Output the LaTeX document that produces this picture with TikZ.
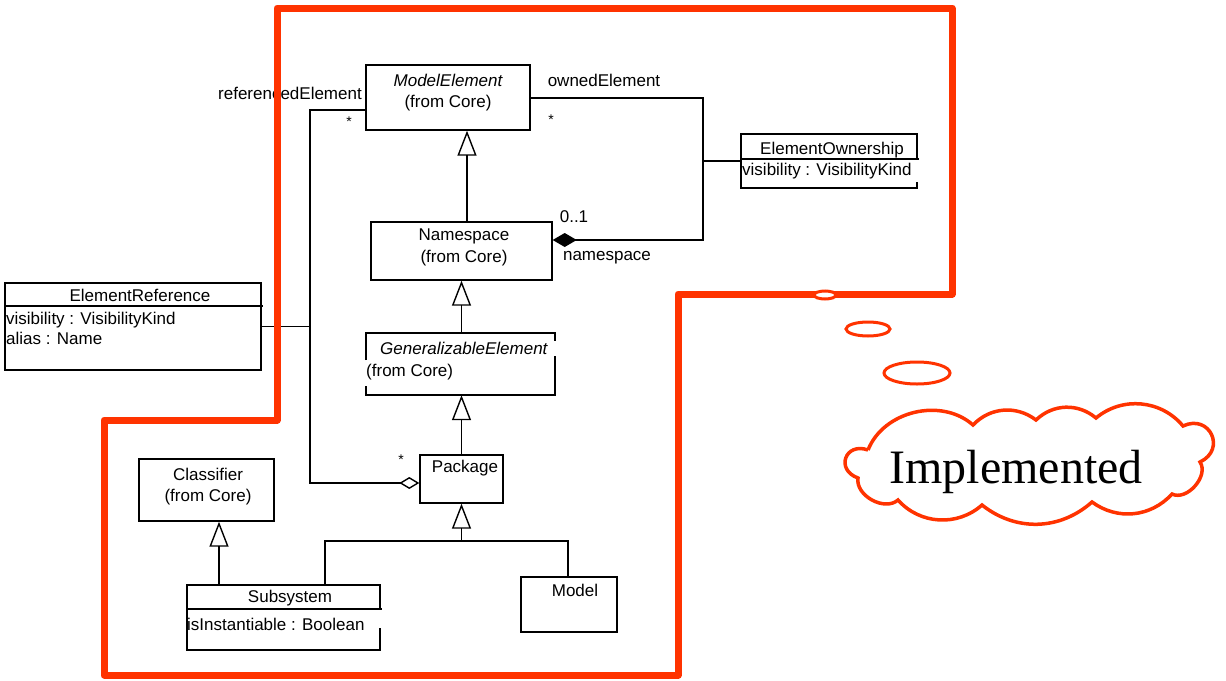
\documentclass[tikz,border=0pt]{standalone}
\usepackage{fontspec}
\setmainfont{Liberation Sans}
\newfontfamily\cloudfont{Liberation Serif}
\usetikzlibrary{arrows.meta}
\definecolor{hilite}{HTML}{FF3300}

\begin{document}
\begin{tikzpicture}[x=1pt,y=-1pt,
  uml/.style={draw=black,line width=1.4pt},
  box/.style={uml,rectangle,inner sep=0pt},
  lbl/.style={font=\fontsize{17}{20}\selectfont,inner sep=0pt},
  lbli/.style={font=\fontsize{17}{20}\selectfont\itshape,inner sep=0pt},
  mult/.style={font=\fontsize{14}{16}\selectfont,inner sep=0pt},
  gen/.style={-{Triangle[open,width=19pt,length=25pt,line width=1.4pt]}},
  agg/.style={-{Diamond[open,width=12pt,length=20pt,line width=1.4pt]}},
  comp/.style={-{Diamond[width=14pt,length=24pt]}},
  outline/.style={draw=hilite,line width=7pt,line join=round},
  bubble/.style={draw=hilite,line width=3pt}
]
\useasboundingbox (0,0) rectangle (1226,680);

% ---- columns used by the generalisation lines
\coordinate (colME) at (467,0);
\coordinate (colCl) at (219,0);

% ---- classes
\node[box,minimum width=164pt,minimum height=65pt] (me) at (448,97.5) {};
\node[lbli] at (448,80) {ModelElement};
\node[lbl] at (448,103) {(from Core)};

\node[box,minimum width=181pt,minimum height=58pt] (ns) at (461.5,251) {};
\node[lbl] at (464,236) {Namespace};
\node[lbl] at (464,258) {(from Core)};

\node[minimum width=189pt,minimum height=62pt,inner sep=0pt] (ge) at (460.5,364) {};
\draw[uml] (366,360) -- (366,333) -- (555,333) -- (555,341);
\draw[uml] (555,356) -- (555,395) -- (366,395) -- (366,386);
\node[lbli,anchor=west] at (380,348) {GeneralizableElement};
\node[lbl,anchor=west] at (366,372) {(from Core)};

\node[box,minimum width=83pt,minimum height=48pt] (pkg) at (461.5,479) {};
\node[lbl] at (465,468) {Package};

\node[box,minimum width=135pt,minimum height=62pt] (cl) at (206.5,490) {};
\node[lbl] at (208,474) {Classifier};
\node[lbl] at (208,497) {(from Core)};

\node[minimum width=193pt,minimum height=65pt,inner sep=0pt] (sub) at (283.5,617.5) {};
\draw[uml] (380,628) -- (380,650) -- (187,650) -- (187,585) -- (380,585) -- (380,609);
\draw[uml] (187,609) -- (382,609);
\node[lbl] at (290,598) {Subsystem};
\node[lbl,anchor=west] at (187,624) {isInstantiable : Boolean};

\node[box,minimum width=96pt,minimum height=55pt] (model) at (569,604.5) {};
\node[lbl] at (575,590) {Model};

\node[box,minimum width=256pt,minimum height=87pt] (eref) at (133,326.5) {};
\draw[uml] (5,306) -- (263,306);
\node[lbl] at (140,295) {ElementReference};
\node[lbl,anchor=west] at (6,320) {visibility : VisibilityKind};
\node[lbl,anchor=west] at (6,338) {alias : Name};

\node[minimum width=176pt,minimum height=54pt,inner sep=0pt] (eo) at (829,161) {};
\draw[uml] (741,159) -- (741,134) -- (917,134) -- (917,159);
\draw[uml] (741,159) -- (741,188) -- (917,188) -- (917,182);
\draw[uml] (741,159) -- (919,159);
\node[lbl] at (832,150) {ElementOwnership};
\node[lbl,anchor=west] at (742,171) {visibility : VisibilityKind};

% ---- generalisations
\draw[uml,gen] (ns.north -| colME) -- (me.south -| colME);
\draw[uml,gen] (ge.north -| pkg.north) -- (ns.south -| pkg.north);
\draw[uml,gen] (pkg.north) -- (ge.south -| pkg.north);
\draw[uml,gen] (sub.north -| colCl) -- (cl.south -| colCl);
\coordinate (bar) at (461.5,541);
\coordinate (barL) at (325,541);
\coordinate (barR) at (568,541);
\draw[uml,gen] (bar) -- (pkg.south);
\draw[uml] (sub.north -| barL) -- (barL) -- (barR) -- (model.north -| barR);

% ---- referencedElement aggregation
\coordinate (refT) at (310,110);
\coordinate (refB) at (310,483);
\draw[uml,agg] (me.west |- refT) -- (refT) -- (refB) -- (pkg.west |- refB);
\draw[uml] (eref.east) -- (eref.east -| refT);
\node[lbl,anchor=east] at (362,93) {referencedElement};
\node[mult] at (349,122) {*};
\node[mult] at (401,460) {*};

% ---- ownedElement / namespace composition
\coordinate (ownT) at (703,98);
\coordinate (ownB) at (703,240);
\draw[uml,comp] (ownT -| me.east) -- (ownT) -- (ownB) -- (ns.east |- ownB);
\draw[uml] (ownT |- eo.west) -- (eo.west);
\node[lbl] at (604,80) {ownedElement};
\node[mult] at (551,120) {*};
\node[lbl] at (574,217) {0..1};
\node[lbl] at (607,258) {namespace};

% ---- highlighted region and thought bubble
\draw[outline] (277,8) -- (952,8) -- (952,294) -- (678,294) -- (678,675)
  -- (104,675) -- (104,420) -- (277,420) -- cycle;
\draw[bubble,fill=white] (825,295) ellipse [x radius=11, y radius=4];
\draw[bubble] (868,329) ellipse [x radius=22, y radius=7];
\draw[bubble] (917,373) ellipse [x radius=33, y radius=11];

% cloud outline built from puffs
\coordinate (p1) at (868,450);
\coordinate (p2) at (973,425);
\coordinate (p3) at (1036,420);
\coordinate (p4) at (1096,418);
\coordinate (p5) at (1183,426);
\coordinate (p6) at (1200,462);
\coordinate (p7) at (1172,494);
\coordinate (p8) at (1092,502);
\coordinate (p9) at (982,505);
\coordinate (p10) at (898,500);
\coordinate (p11) at (858,478);
\draw[bubble,line width=3.5pt] (p1) to[bend left=55] (p2) to[bend left=42] (p3)
  to[bend left=42] (p4) to[bend left=45] (p5)
  to[bend left=90,looseness=1.9] (p6) to[bend left=75] (p7)
  to[bend left=42] (p8) to[bend left=40] (p9) to[bend left=45] (p10)
  to[bend left=70] (p11) to[bend left=90,looseness=2.1] (p1);
\node[font=\cloudfont\fontsize{48}{56}\selectfont,inner sep=0pt,anchor=base] (impl) at (1016,483) {Implemented};
\end{tikzpicture}
\end{document}
